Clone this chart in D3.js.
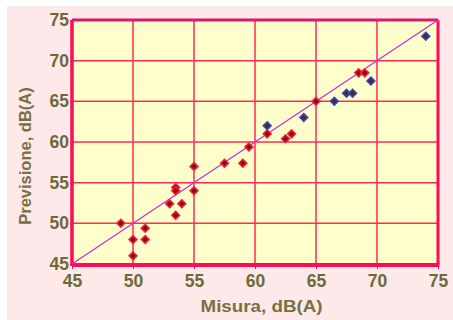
<!DOCTYPE html>
<html>
<head>
<meta charset="utf-8">
<script src="https://cdn.jsdelivr.net/npm/d3@7"></script>
<style>
  body { margin: 0; background: #fff; }
  text { font-family: "Liberation Sans", Arial, sans-serif; font-weight: bold; }
</style>
</head>
<body>
<svg id="chart" width="453" height="320"></svg>
<script>
// measured vs predicted levels, dB(A)
var redMisura = [49, 50, 50, 51, 51, 53, 53.5, 53.5, 54, 53.5, 55, 55, 57.5, 59, 59.5, 61, 62.5, 63, 65, 68.5, 69]
var redPrev   = [50, 48, 46, 49.4, 48, 52.4, 54.4, 54, 52.4, 51, 57, 54, 57.4, 57.4, 59.4, 61, 60.4, 61, 65, 68.5, 68.5]
var blueMisura = [61, 64, 66.5, 67.5, 68, 69.5, 74]
var bluePrev   = [62, 63, 65, 66, 66, 67.5, 73]
var ticks = [45, 50, 55, 60, 65, 70, 75]

var dimensions = {
    width: 453,
    height: 320,
    margin: { top: 20, bottom: 56, right: 15, left: 72 }
}
dimensions.boundedWidth = dimensions.width - dimensions.margin.left - dimensions.margin.right
dimensions.boundedHeight = dimensions.height - dimensions.margin.top - dimensions.margin.bottom

var svg = d3.select("#chart")

// pink panel
svg.append("rect")
    .attr("x", 7).attr("y", 6)
    .attr("width", 446).attr("height", 314)
    .attr("fill", "#fde8ea")

var bounds = svg.append("g")
    .attr("transform", "translate(" + dimensions.margin.left + "," + dimensions.margin.top + ")")

var xScale = d3.scaleLinear()
    .domain([45, 75])
    .range([0, dimensions.boundedWidth])

var yScale = d3.scaleLinear()
    .domain([45, 75])
    .range([dimensions.boundedHeight, 0])

bounds.append("rect")
    .attr("width", dimensions.boundedWidth)
    .attr("height", dimensions.boundedHeight)
    .attr("fill", "#ffffcc")

// grid
bounds.append("g")
    .selectAll("line")
    .data(ticks.slice(1, -1))
    .enter()
    .append("line")
    .attr("x1", d => xScale(d)).attr("x2", d => xScale(d))
    .attr("y1", 0).attr("y2", dimensions.boundedHeight)
    .attr("stroke", "#ff2a55").attr("stroke-width", 1.5)

bounds.append("g")
    .selectAll("line")
    .data(ticks.slice(1, -1))
    .enter()
    .append("line")
    .attr("y1", d => yScale(d)).attr("y2", d => yScale(d))
    .attr("x1", 0).attr("x2", dimensions.boundedWidth)
    .attr("stroke", "#ff2a55").attr("stroke-width", 1.5)

// frame
bounds.append("line")
    .attr("x1", 0).attr("x2", dimensions.boundedWidth).attr("y1", 0).attr("y2", 0)
    .attr("stroke", "#d81a6a").attr("stroke-width", 3)
bounds.append("line")
    .attr("x1", dimensions.boundedWidth).attr("x2", dimensions.boundedWidth)
    .attr("y1", 0).attr("y2", dimensions.boundedHeight)
    .attr("stroke", "#ff0a55").attr("stroke-width", 3)
bounds.append("line")
    .attr("x1", 0).attr("x2", 0).attr("y1", 0).attr("y2", dimensions.boundedHeight + 2)
    .attr("stroke", "#ff0a55").attr("stroke-width", 3.5)
bounds.append("line")
    .attr("x1", 0).attr("x2", dimensions.boundedWidth + 1.5)
    .attr("y1", dimensions.boundedHeight + 1).attr("y2", dimensions.boundedHeight + 1)
    .attr("stroke", "#ff0a55").attr("stroke-width", 4)

// axes
var xAxis = bounds.append("g")
    .attr("transform", "translate(0," + (dimensions.boundedHeight + 2) + ")")
    .call(d3.axisBottom(xScale).tickValues(ticks).tickSize(3).tickPadding(6))
var yAxis = bounds.append("g")
    .call(d3.axisLeft(yScale).tickValues(ticks).tickSize(2).tickPadding(1))

;[xAxis, yAxis].forEach(function (a) {
    a.select(".domain").remove()
    a.selectAll("line").attr("stroke", "#ff0a55")
    a.selectAll("text")
        .attr("fill", "#6d6a3a")
        .style("font-size", "17.5px")
        .style("font-family", "'Liberation Sans', Arial, sans-serif")
        .style("font-weight", "bold")
})

// y = x line
bounds.append("line")
    .attr("x1", xScale(45)).attr("y1", yScale(45))
    .attr("x2", xScale(75)).attr("y2", yScale(75))
    .attr("stroke", "#cc33cc").attr("stroke-width", 1.3)

var diamond = d3.symbol().type(d3.symbolDiamond2).size(40)

bounds.append("g")
    .selectAll("path")
    .data(redMisura)
    .enter()
    .append("path")
    .attr("d", diamond)
    .attr("transform", (d, i) => "translate(" + xScale(d) + "," + yScale(redPrev[i]) + ")")
    .attr("fill", "#7a1414")
    .attr("stroke", "#ff1a3c")
    .attr("stroke-width", 1.5)

bounds.append("g")
    .selectAll("path")
    .data(blueMisura)
    .enter()
    .append("path")
    .attr("d", diamond)
    .attr("transform", (d, i) => "translate(" + xScale(d) + "," + yScale(bluePrev[i]) + ")")
    .attr("fill", "#5a2420")
    .attr("stroke", "#2a4cc8")
    .attr("stroke-width", 1.5)

// titles
svg.append("text")
    .attr("x", 261.5).attr("y", 312)
    .attr("text-anchor", "middle")
    .attr("fill", "#77713f")
    .attr("textLength", 122)
    .attr("lengthAdjust", "spacingAndGlyphs")
    .style("font-size", "16.5px")
    .text("Misura, dB(A)")

svg.append("text")
    .attr("transform", "translate(31,156) rotate(-90)")
    .attr("text-anchor", "middle")
    .attr("fill", "#77713f")
    .style("font-size", "16.5px")
    .text("Previsione, dB(A)")
</script>
</body>
</html>
